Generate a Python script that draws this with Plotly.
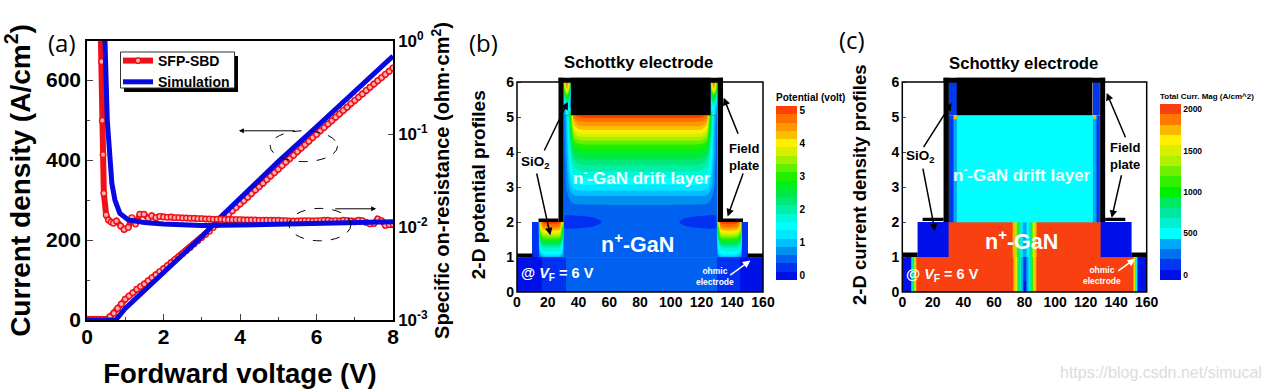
import plotly.graph_objects as go

W, H = 1269, 389
FONT = "Liberation Sans"
TAG_FONT = "Open Sans"

# ---------- panel (a) data ----------
V_EXP = [0.0,0.1,0.2,0.3,0.4,0.5,0.6,0.7,0.8,0.9,1.0,1.1,1.2,1.3,1.4,1.5,1.6,1.7,1.8,1.9,
         2.0,2.1,2.2,2.3,2.4,2.5,2.6,2.7,2.8,2.9,3.0,3.1,3.2,3.3,3.4,3.5,3.6,3.7,3.8,3.9,
         4.0,4.1,4.2,4.3,4.4,4.5,4.6,4.7,4.8,4.9,5.0,5.1,5.2,5.3,5.4,5.5,5.6,5.7,5.8,5.9,
         6.0,6.1,6.2,6.3,6.4,6.5,6.6,6.7,6.8,6.9,7.0,7.1,7.2,7.3,7.4,7.5,7.6,7.7,7.8,7.9,8.0]
J_EXP = [2,2,2,2,2,2,8,17,29,40,52,60,68,77,84,90,98,106,113,121,
         128,136,143,151,158,166,174,181,190,198,206,214,222,231,239,247,256,264,273,281,
         290,298,307,316,325,333,342,351,360,368,377,386,395,403,412,421,430,438,447,456,
         464,473,481,490,498,507,515,524,532,541,549,557,565,574,582,590,598,606,614,622,630]
V_SIM = [0, 0.75, 1, 2, 3, 3.5, 4, 5, 6, 7, 8]
J_SIM = [0, 0, 29, 117, 208, 258, 304, 396, 483, 571, 660]

V_RON_EXP = [0.36,0.38,0.40,0.42,0.44,0.50,0.56,0.63,0.69,0.77,0.88,0.97,1.08,1.17,1.27,1.38,1.49,1.6,1.69,1.8,
             1.9,2.0,2.1,2.2,2.3,2.4,2.5,2.6,2.7,2.8,2.9,3.0,3.1,3.2,3.3,3.4,3.5,3.6,3.7,3.8,3.9,
             4.0,4.1,4.2,4.3,4.4,4.5,4.6,4.7,4.8,4.9,5.0,5.1,5.2,5.3,5.4,5.5,5.6,5.7,5.8,5.9,
             6.0,6.1,6.2,6.3,6.4,6.5,6.6,6.7,6.8,6.9,7.0,7.1,7.2,7.3,7.4,7.5,7.6,7.7,7.8,7.9,8.0]
RON_EXP = [1.2,0.6,0.14,0.06,0.023,0.0135,0.0119,0.0113,0.011,0.0116,0.01025,0.0094,0.0099,0.0126,0.01075,0.0137,0.0137,0.0124,0.0132,0.0126,
           0.0130,0.0128,0.0127,0.0128,0.0126,0.0126,0.0125,0.0125,0.0124,0.0124,0.0123,0.0123,0.0122,0.0122,0.0121,0.0121,0.0121,0.0120,0.0120,0.0120,0.0120,
           0.0120,0.0119,0.0119,0.0119,0.0119,0.0118,0.0118,0.0118,0.0118,0.0118,0.0118,0.0117,0.0117,0.0116,0.0116,0.0116,0.0117,0.0117,0.0117,0.0116,
           0.0117,0.0117,0.0118,0.0118,0.0116,0.0117,0.0116,0.0118,0.0117,0.0116,0.0114,0.0118,0.0117,0.0112,0.0108,0.0109,0.0122,0.0117,0.0104,0.0106,0.0107]
V_RON_SIM = [0.44,0.47,0.53,0.58,0.65,0.73,0.86,1.08,1.5,2,3,4,5,6,7,8]
RON_SIM = [1.2,1.0,0.141,0.0616,0.0295,0.0195,0.0140,0.0119,0.0112,0.0108,0.0104,0.0105,0.0107,0.0110,0.0113,0.0114]

# ---------- colour levels ----------
BANDS_B = ["#0010e8","#0030f0","#0060f0","#0090f0","#00c0ff","#00e8ff","#00ffff","#00f8d8","#00f0a8","#00e878","#00e848",
           "#00f020","#20f000","#60f000","#a0f000","#d8f000","#fff000","#f8c000","#ff9800","#ff7000","#ff4000"]
BANDS_C = ["#0010e8","#0038f0","#0070f0","#00a8f8","#00ffff","#00f0d0","#00e8a0","#00e860","#00f000","#30f000","#70f000",
           "#b0f000","#d8f000","#fff000","#f8b800","#ff7800","#f84010"]

# ---------- panel (b) data ----------
B_FLAT_X = [0, 10, 14, 16, 32, 130, 145, 146.5, 150, 160]
B_FLAT_Y = [0, 1, 2]
B_FLAT_Z = [[0, 0, 0, 0.25, 0.5, 0.25, 0, 0, 0],
            [None, 0.25, None, None, None, None, None, 0.25, None]]

B_CORE_X = [30.2, 31.5, 33, 35, 37, 40, 45, 52, 60, 80.25]
B_CORE_Y = [1, 1.8, 2.0, 2.2, 2.5, 2.75, 3, 3.25, 3.5, 3.75, 4, 4.25, 4.5, 4.7, 4.85, 5.05]
B_CORE_Z = [
    [.5, .5, .5, .5, .5, .5, .5, .5, .5, .5],
    [.5, .38, .38, .38, .39, .4, .42, .46, .5, .5],
    [.5, .15, .15, .15, .15, .17, .2, .3, .5, .5],
    [.5, .38, .38, .38, .39, .4, .42, .46, .5, .5],
    [.5, .5, .5, .55, .6, .62, .63, .63, .63, .63],
    [.5, .5, .6, .75, .85, .88, .88, .88, .88, .88],
    [.5, .55, .75, 1.05, 1.22, 1.28, 1.3, 1.3, 1.3, 1.3],
    [.5, .6, .85, 1.25, 1.48, 1.57, 1.6, 1.6, 1.6, 1.6],
    [.5, .6, .95, 1.5, 1.8, 1.9, 1.95, 1.95, 1.95, 1.95],
    [.5, .65, 1.0, 1.7, 2.1, 2.25, 2.3, 2.3, 2.3, 2.3],
    [.5, .7, 1.1, 1.9, 2.5, 2.65, 2.7, 2.7, 2.7, 2.7],
    [.5, .7, 1.15, 2.2, 2.95, 3.15, 3.2, 3.2, 3.2, 3.2],
    [.5, .75, 1.2, 2.5, 3.5, 3.75, 3.8, 3.8, 3.8, 3.8],
    [.5, .75, 1.3, 2.7, 3.95, 4.25, 4.3, 4.3, 4.3, 4.3],
    [.5, .8, 1.3, 2.8, 4.3, 4.55, 4.6, 4.6, 4.6, 4.6],
    [.5, .8, 1.4, 3.0, 4.8, 5.0, 5.05, 5.05, 5.05, 5.05],
]
B_OXIDE_X = [30.2, 31, 32.5, 34, 35]
B_OXIDE_Y = [5.05, 5.3, 5.6, 5.85, 6.0]
B_OXIDE_Z = [
    [.5, .8, 1.4, 2.6, 3.0],
    [.7, 1.0, 1.6, 1.2, 1.0],
    [1.0, 2.2, 3.0, 2.3, 1.2],
    [1.3, 3.6, 4.5, 3.6, 1.5],
    [1.5, 4.0, 4.8, 4.0, 1.8],
]
B_MESA_X = [14, 15, 17, 20, 25, 28, 30.2]
B_MESA_Y = [1, 1.1, 1.3, 1.5, 1.7, 1.85, 2]
B_MESA_Z = [
    [.5, .7, .9, 1.0, 1.0, .9, .7],
    [.5, 1.0, 1.4, 1.45, 1.45, 1.4, .9],
    [.5, 1.6, 1.95, 2.0, 2.0, 1.9, 1.2],
    [.5, 2.4, 2.9, 3.0, 3.0, 2.9, 1.7],
    [.5, 3.2, 3.8, 3.9, 3.9, 3.8, 2.2],
    [.5, 3.8, 4.5, 4.6, 4.6, 4.5, 2.5],
    [.5, 4.3, 4.95, 5.05, 5.05, 4.95, 3.5],
]
B_BLACK = [(35, 126, 5.05, 6.13), (27, 30.2, 2, 6.13), (130.5, 134, 2, 6.13), (27, 134, 6.0, 6.13),
           (14, 27, 2, 2.1), (134, 147, 2, 2.1), (0, 10, 1, 1.1), (150, 160, 1, 1.1)]

# ---------- panel (c) data ----------
C_LOW_X = [0, 6, 6.6, 7.2, 7.8, 8.4, 9, 72.5, 74, 75, 76, 77, 78, 79, 81.5, 82.5, 83.5, 84.5, 85.5, 86.5, 88,
           151.4, 152, 152.4, 152.8, 153.2, 153.6, 160]
C_LOW_Y = [0, 0.3, 1]
C_LOW_Z = [
    [0, 500, 750, 1100, 1500, 1800, 2000, 1750, 1500, 1100, 800, 600, 400, 0, 400, 600, 800, 1100, 1500, 1750,
     2000, 1800, 1500, 1100, 750, 500, 0],
    [0, 500, 750, 1100, 1500, 1800, 2000, 1750, 1500, 1100, 800, 600, 400, 150, 400, 600, 800, 1100, 1500, 1750,
     2000, 1800, 1500, 1100, 750, 500, 0],
]
C_MID_X = [10, 30.5, 72.5, 74, 75, 76, 77, 78, 79, 81.5, 82.5, 83.5, 84.5, 85.5, 86.5, 88, 129.5, 150]
C_MID_Y = [1, 2]
C_MID_Z = [[0, 2000, 1750, 1500, 1100, 800, 600, 500, 375, 500, 600, 800, 1100, 1500, 1750, 2000, 0]]
C_DRIFT_X = [30.5, 33, 34, 35.6, 125, 126.6, 127.6, 129.5]
C_DRIFT_Y = [2, 4.95, 5.05]
C_DRIFT_Z = [[125, 250, 375, 500, 375, 250, 125],
             [125, 375, 1800, 500, 1800, 375, 125]]
C_OXIDE_X = [30.5, 35.6, 124.5, 129.5]
C_OXIDE_Y = [5.05, 6.0]
C_OXIDE_Z = [[125, None, 125]]
C_BLACK = [(35.6, 124.5, 5.05, 6.13), (27, 30.5, 2, 6.13), (129.5, 132.8, 2, 6.13), (27, 132.8, 6.0, 6.13),
           (13.3, 27, 2.03, 2.12), (132.8, 146, 2.03, 2.12), (0, 10, 1, 1.13), (150, 160, 1, 1.13)]


def paper_x(px):
    return px / W


def paper_y(px):
    return 1 - px / H


def stepped(bands):
    n = len(bands)
    scale = []
    for i, c in enumerate(bands):
        scale.append([i / n, c])
        scale.append([(i + 1) / n, c])
    return scale


def mirror_grid(xs, rows, centre=80.25):
    mx = xs + [2 * centre - v for v in reversed(xs[:-1])]
    mz = [r + list(reversed(r[:-1])) for r in rows]
    return mx, mz


SCALE_B, SCALE_C = stepped(BANDS_B), stepped(BANDS_C)
ZR_B = (-0.125, 5.125)
ZR_C = (-62.5, 2062.5)
CONT_B = dict(start=0.125, end=4.875, size=0.25, coloring="fill")

fig = go.Figure()

# ---- panel (a) traces ----
RED = "#f01018"
BLUE = "#0808e0"
red_style = dict(mode="lines+markers", line=dict(color=RED, width=6),
                 marker=dict(size=5.5, color="#ffb0b0", line=dict(color=RED, width=1.4)))
blue_style = dict(mode="lines", line=dict(color=BLUE, width=5))
fig.add_trace(go.Scatter(x=V_EXP, y=J_EXP, name="SFP-SBD", legendgroup="exp", **red_style))
fig.add_trace(go.Scatter(x=V_SIM, y=J_SIM, name="Simulation", legendgroup="sim", **blue_style))
fig.add_trace(go.Scatter(x=V_RON_EXP, y=RON_EXP, name="SFP-SBD", legendgroup="exp", showlegend=False, yaxis="y2", **red_style))
fig.add_trace(go.Scatter(x=V_RON_SIM, y=RON_SIM, name="Simulation", legendgroup="sim", showlegend=False, yaxis="y2", **blue_style))


def colorbar(px_left, title, title_size, tick_size, tickvals):
    return dict(x=paper_x(px_left), xanchor="left", xpad=0, ypad=0, thickness=21,
                len=190 / H, y=paper_y(90), yanchor="top", outlinewidth=0,
                tickmode="array", tickvals=tickvals, ticktext=[str(v) for v in tickvals], ticks="", ticklen=0,
                tickfont=dict(family=FONT, size=tick_size, color="black", weight="bold"),
                title=dict(text=title, side="top", font=dict(family=FONT, size=title_size, color="black", weight="bold")))


# ---- panel (b) traces ----
fig.add_trace(go.Heatmap(x=B_FLAT_X, y=B_FLAT_Y, z=B_FLAT_Z, xaxis="x3", yaxis="y3", colorscale=SCALE_B,
                         zmin=ZR_B[0], zmax=ZR_B[1], hoverongaps=False,
                         colorbar=colorbar(776, "Potential (volt)", 10, 10, [0, 1, 2, 3, 4, 5])))
core_x, core_z = mirror_grid(B_CORE_X, B_CORE_Z)
fig.add_trace(go.Contour(x=core_x, y=B_CORE_Y, z=core_z, xaxis="x3", yaxis="y3", colorscale=SCALE_B, zmin=ZR_B[0], zmax=ZR_B[1],
                         autocontour=False, contours=CONT_B, line=dict(width=0), showscale=False))
for xs, ys, zs in [(B_MESA_X, B_MESA_Y, B_MESA_Z), (B_OXIDE_X, B_OXIDE_Y, B_OXIDE_Z)]:
    for flip in (False, True):
        px = [160.5 - v for v in reversed(xs)] if flip else xs
        pz = [list(reversed(r)) for r in zs] if flip else zs
        fig.add_trace(go.Contour(x=px, y=ys, z=pz, xaxis="x3", yaxis="y3", colorscale=SCALE_B, zmin=ZR_B[0], zmax=ZR_B[1],
                                 autocontour=False, contours=CONT_B, line=dict(width=0), showscale=False))

# ---- panel (c) traces ----
fig.add_trace(go.Heatmap(x=C_LOW_X, y=C_LOW_Y, z=C_LOW_Z, xaxis="x4", yaxis="y4", colorscale=SCALE_C,
                         zmin=ZR_C[0], zmax=ZR_C[1],
                         colorbar=colorbar(1160, "Total Curr. Mag (A/cm^2)", 8, 8.5, [0, 500, 1000, 1500, 2000])))
for xs, ys, zs in [(C_MID_X, C_MID_Y, C_MID_Z), (C_DRIFT_X, C_DRIFT_Y, C_DRIFT_Z), (C_OXIDE_X, C_OXIDE_Y, C_OXIDE_Z)]:
    fig.add_trace(go.Heatmap(x=xs, y=ys, z=zs, xaxis="x4", yaxis="y4", colorscale=SCALE_C, zmin=ZR_C[0], zmax=ZR_C[1],
                             showscale=False, hoverongaps=False))


# ---- axes ----
def tick_font(size):
    return dict(family=FONT, size=size, color="black", weight="bold")


def title_font(size):
    return dict(family=FONT, size=size, color="black", weight="bold")


A_L, A_R, A_T, A_B = 87, 393, 41, 320
fig.update_layout(
    width=W, height=H, margin=dict(l=0, r=0, t=0, b=0, autoexpand=False), paper_bgcolor="white", plot_bgcolor="white",
    font=dict(family=FONT, color="black"),
    legend=dict(x=paper_x(118), y=paper_y(45), xanchor="left", yanchor="top", bgcolor="rgba(0,0,0,0)",
                borderwidth=0, itemwidth=30, tracegroupgap=0, entrywidth=76, entrywidthmode="pixels",
                font=dict(family=FONT, size=14, color="black", weight="bold")),
    xaxis=dict(domain=[paper_x(A_L), paper_x(A_R)], range=[0, 8], tickvals=[0, 2, 4, 6, 8], ticks="inside", ticklen=6,
               minor=dict(tickvals=[1, 3, 5, 7], ticks="inside", ticklen=3), showgrid=False, zeroline=False,
               showline=True, mirror=True, linecolor="black", linewidth=1.5, tickfont=tick_font(21), ticklabelstandoff=-3,
               title=dict(text="Fordward voltage (V)", font=title_font(27.5), standoff=20)),
    yaxis=dict(domain=[paper_y(A_B), paper_y(A_T)], range=[0, 697.5], tickvals=[0, 200, 400, 600], ticks="inside", ticklen=6,
               minor=dict(tickvals=[100, 300, 500], ticks="inside", ticklen=3), showgrid=False, zeroline=False,
               showline=True, linecolor="black", linewidth=1.5, tickfont=tick_font(21),
               title=dict(text="Current density (A/cm<sup>2</sup>)", font=title_font(28), standoff=8)),
    yaxis2=dict(domain=[paper_y(A_B), paper_y(A_T)], overlaying="y", side="right", type="log", range=[-3, 0],
                tickvals=[0.001, 0.01, 0.1, 1], ticktext=["10<sup>-3</sup>", "10<sup>-2</sup>", "10<sup>-1</sup>", "10<sup>0</sup>"],
                ticks="inside", ticklen=5, showgrid=False, zeroline=False, showline=True, linecolor="black", linewidth=1.5,
                tickfont=tick_font(17),
                title=dict(text="Specific on-resistance (ohm·cm<sup>2</sup>)", font=title_font(20), standoff=6)),
)

P_T, P_B, YTOP = 77.5, 292, 6.13
for xname, yname, left, right, title, tsize, stand in [("xaxis3", "yaxis3", 517, 763, "2-D potential profiles", 19, 15),
                                                       ("xaxis4", "yaxis4", 902.3, 1146.7, "2-D current density profiles", 18.5, 20)]:
    fig.update_layout({
        xname: dict(domain=[paper_x(left), paper_x(right)], range=[0, 160], anchor=yname.replace("axis", ""),
                    tickvals=list(range(0, 161, 20)), ticks="", showgrid=False, zeroline=False, showline=False,
                    tickfont=tick_font(14), ticklabelstandoff=0),
        yname: dict(domain=[paper_y(P_B), paper_y(P_T)], range=[0, YTOP], anchor=xname.replace("axis", ""),
                    tickvals=list(range(0, 7)), ticks="inside", ticklen=4, tickwidth=1, showgrid=False, zeroline=False, showline=False,
                    tickfont=tick_font(14), ticklabelstandoff=2,
                    title=dict(text=title, font=title_font(tsize), standoff=stand)),
    })
    fig.add_shape(type="rect", xref="paper", yref="paper", x0=paper_x(left), x1=paper_x(right),
                  y0=paper_y(292), y1=paper_y(82), line=dict(color="black", width=1.5), layer="above")

for xr, yr, rects in [("x3", "y3", B_BLACK), ("x4", "y4", C_BLACK)]:
    for x0, x1, y0, y1 in rects:
        fig.add_shape(type="rect", xref=xr, yref=yr, x0=x0, x1=x1, y0=y0, y1=y1,
                      fillcolor="black", line=dict(width=0), layer="above")

# legend shadow and box
fig.add_shape(type="rect", xref="paper", yref="paper", x0=paper_x(124), x1=paper_x(238), y0=paper_y(92), y1=paper_y(56),
              fillcolor="black", line=dict(width=0), layer="above")
fig.add_shape(type="rect", xref="paper", yref="paper", x0=paper_x(120.5), x1=paper_x(234.5), y0=paper_y(88), y1=paper_y(52),
              fillcolor="white", line=dict(color="#333", width=1), layer="above")

# dashed ellipses in panel (a)
for x0, x1, y0, y1 in [(4.79, 6.55, 396, 473), (5.28, 6.9, 198, 279)]:
    fig.add_shape(type="circle", xref="x", yref="y", x0=x0, x1=x1, y0=y0, y1=y1,
                  line=dict(color="black", width=1, dash="dash"), layer="above")

# ---- annotations ----
ann = []


def arrow(xr, yr, frm, to, color="black", width=1.5, head=1.0):
    ann.append(dict(xref=xr, yref=yr, axref=xr, ayref=yr, x=to[0], y=to[1], ax=frm[0], ay=frm[1], text="",
                    showarrow=True, arrowhead=2, arrowsize=head, arrowwidth=width, arrowcolor=color))


def text(xr, yr, x, y, s, size, color="black", weight="bold", family=FONT, align="center"):
    ann.append(dict(xref=xr, yref=yr, x=x, y=y, text=s, showarrow=False, align=align, xanchor="center", yanchor="middle",
                    font=dict(family=family, size=size, color=color, weight=weight)))


# panel tags, titles, watermark
for tag, px, py in [("(a)", 62, 43), ("(b)", 483, 43), ("(c)", 852, 39)]:
    text("paper", "paper", paper_x(px), paper_y(py), tag, 24, weight="normal", family=TAG_FONT)
text("paper", "paper", paper_x(639), paper_y(63), "Schottky electrode", 16.7)
text("paper", "paper", paper_x(1023), paper_y(64), "Schottky electrode", 16.7)
text("paper", "paper", paper_x(1161), paper_y(372), "https://blog.csdn.net/simucal", 16, color="#dcdcdc", weight="normal")

arrow("x", "y", (5.47, 473), (3.97, 473), width=1)
arrow("x", "y", (6.45, 278), (7.56, 278), width=1)

for xr, yr, sio, a1, a2, fp, a3, a4, drift, nplus, at, ohm, a5 in [
    ("x3", "y3", (12, 3.71), ((17.3, 4.0), (33, 5.43)), ((12.6, 3.43), (21.7, 1.62)), (147.9, 3.86),
     ((144.2, 4.48), (134.4, 5.55)), ((147.4, 3.43), (137, 2.16)), (81.3, 3.3), (78.5, 1.4), (26.4, 0.52),
     (129, 0.45), ((137.7, 0.45), (151.8, 0.9))),
    ("x4", "y4", (12, 3.86), ((13.3, 4.1), (32.3, 5.4)), ((13.3, 3.57), (21.4, 1.74)), (145.9, 3.9),
     ((146.5, 4.38), (133.8, 5.69)), ((143.7, 3.38), (137.1, 2.12)), (78.2, 3.38), (78.2, 1.48), (26.4, 0.5),
     (130.6, 0.48), ((140.4, 0.57), (152.4, 0.95))),
]:
    text(xr, yr, sio[0], sio[1], "SiO<sub>2</sub>", 13.5)
    arrow(xr, yr, a1[0], a1[1])
    arrow(xr, yr, a2[0], a2[1])
    text(xr, yr, fp[0], fp[1], "Field<br>plate", 13)
    arrow(xr, yr, a3[0], a3[1])
    arrow(xr, yr, a4[0], a4[1])
    text(xr, yr, drift[0], drift[1], "n<sup>-</sup>-GaN drift layer", 17, color="#f0ffff")
    text(xr, yr, nplus[0], nplus[1], "n<sup>+</sup>-GaN", 21.5, color="white")
    text(xr, yr, at[0], at[1], "@ <i>V</i><sub>F</sub> = 6 V", 14.5, color="white")
    text(xr, yr, ohm[0], ohm[1], "ohmic<br>electrode", 8.5, color="white")
    arrow(xr, yr, a5[0], a5[1], color="white")

fig.update_layout(annotations=ann)

fig.write_html("out.html", config={"displayModeBar": False},
               post_script="document.body.style.margin='0';document.body.style.overflow='hidden';")
